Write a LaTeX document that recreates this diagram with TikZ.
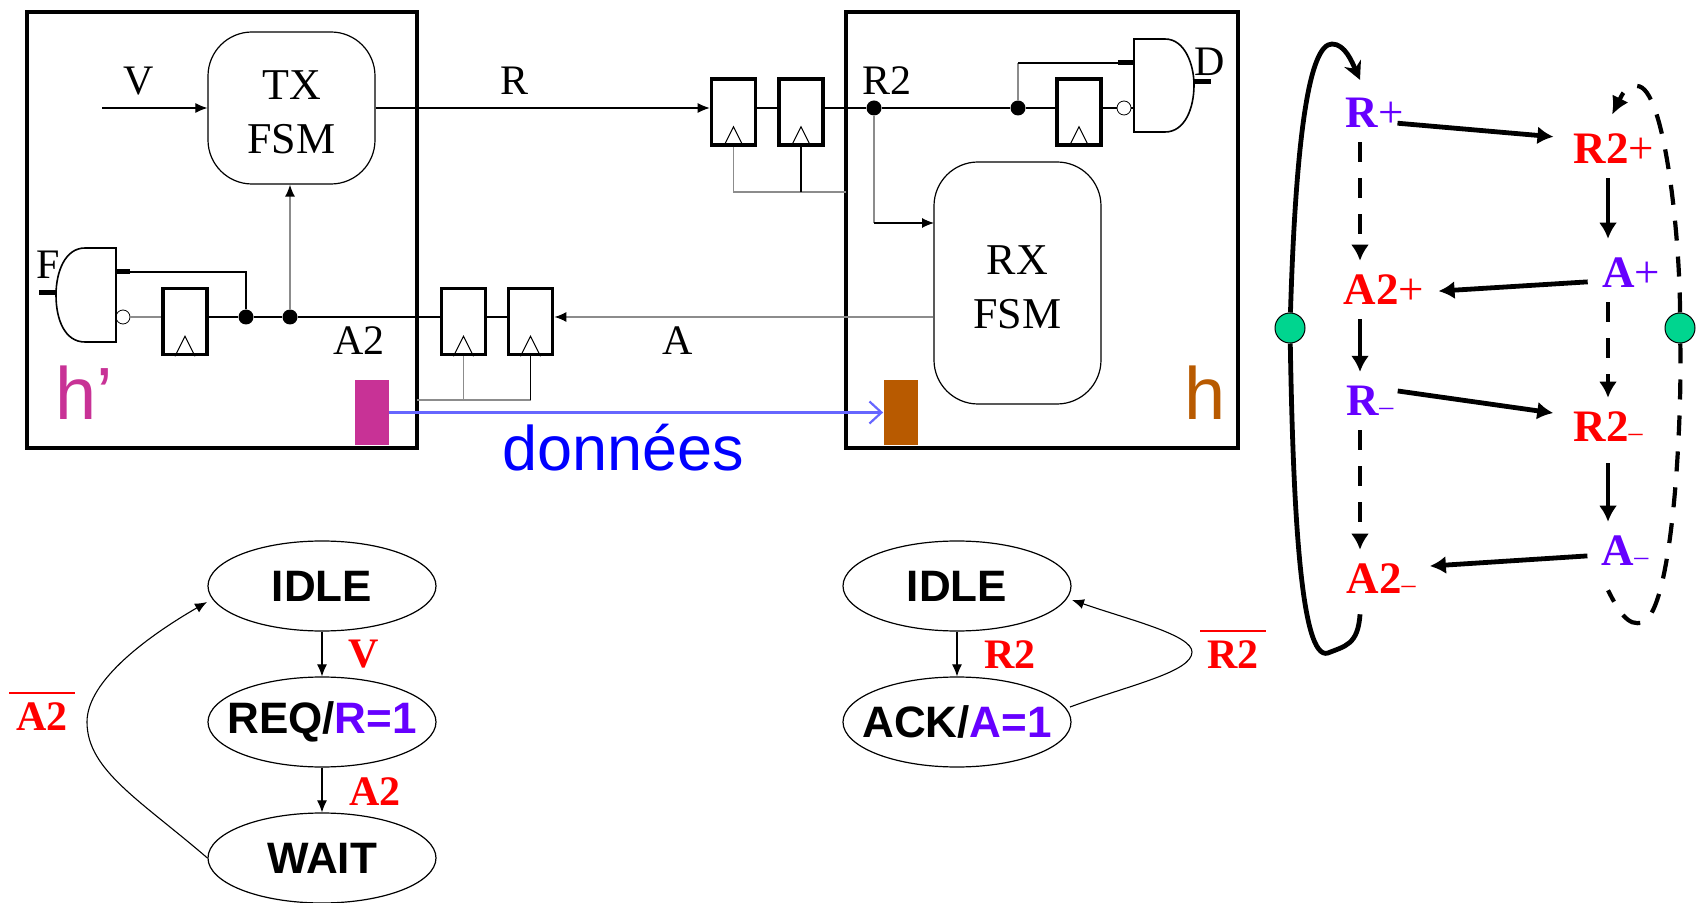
\documentclass[tikz,border=0pt]{standalone}
\usepackage{fontspec}
\setmainfont{Liberation Serif}
\setsansfont{Liberation Sans}
\usetikzlibrary{arrows.meta,shapes.geometric}
\definecolor{hpink}{HTML}{C83296}
\definecolor{hbrown}{HTML}{B85A00}
\definecolor{linkblue}{HTML}{6666FF}
\definecolor{sigpurple}{HTML}{6600FF}
\definecolor{phasegreen}{HTML}{00D58F}
\definecolor{wiregray}{HTML}{8C8C8C}
\newcommand{\barlabel}[1]{\vbox{\hrule height 1.1pt\kern4pt\hbox{\,\textbf{#1}\,}}}
\newcommand{\evminus}{{\fontsize{14}{14}\selectfont –}}
\tikzset{
	wire/.style={line width=0.55pt},
	graywire/.style={line width=0.8pt, wiregray},
	wirearrow/.style={wire, -{Latex[length=6pt,width=5pt]}},
	grayarrow/.style={graywire, -{Latex[length=6pt,width=5pt,color=black]}},
	fsmbox/.style={draw, line width=0.6pt, rounded corners=22pt, align=center, font=\fontsize{22}{27}\selectfont},
	ffbox/.style={draw, line width=1.8pt, minimum width=22pt, minimum height=33pt, inner sep=0pt},
	joint/.style={circle, fill, inner sep=0pt, minimum size=7.5pt},
	bubble/.style={circle, draw, line width=0.4pt, inner sep=0pt, minimum size=7pt},
	sig/.style={font=\fontsize{21}{21}\selectfont},
	stub/.style={line width=2.5pt},
	state/.style={ellipse, draw, line width=0.6pt, inner xsep=-14pt, inner ysep=0pt, minimum width=114pt, minimum height=45pt, font=\sffamily\bfseries\fontsize{22}{22}\selectfont},
	trans/.style={text=red, inner sep=0pt, font=\bfseries\fontsize{21}{21}\selectfont},
	ev/.style={inner sep=0pt, font=\fontsize{22.5}{22.5}\selectfont},
	evarrow/.style={line width=2.4pt, shorten <=7pt, shorten >=7pt, -{Latex[length=8pt,width=9pt]}},
	evdash/.style={evarrow, dash pattern=on 10pt off 8pt},
	phase/.style={circle, draw, line width=0.5pt, fill=phasegreen, inner sep=0pt, minimum size=15pt},
}
\begin{document}
\begin{tikzpicture}[x=0.5pt, y=-0.5pt]
	\useasboundingbox (0,0) rectangle (1698,903);
	\coordinate (ry) at (0,108);
	\coordinate (ay) at (0,317);

	%left and right blocks
	\draw[line width=1.8pt] (27,12) rectangle (417,448);
	\draw[line width=1.8pt] (846,12) rectangle (1238,448);

	\node (txfsm) at (291.5,108) [fsmbox, minimum width=83.5pt, minimum height=76pt]{\rule{0pt}{18.5pt}TX\\FSM};
	\node (rxfsm) at (1017.5,283) [fsmbox, minimum width=83.5pt, minimum height=121pt]{\rule{0pt}{18.5pt}RX\\FSM};

	\node (ffa) at (733.5,112) [ffbox]{};
	\node (ffb) at (801,112) [ffbox]{};
	\node (ffc) at (1079,112) [ffbox]{};
	\node (ffd) at (185,321.5) [ffbox]{};
	\node (ffe) at (463.5,321.5) [ffbox]{};
	\node (fff) at (530.5,321.5) [ffbox]{};
	\foreach \n in {ffa, ffb, ffc, ffd, ffe, fff}{
		\draw[line width=0.5pt] ([xshift=-5pt]\n.south) -- ([yshift=10pt]\n.south) -- ([xshift=5pt]\n.south);
	}

	\node (jointr) at (874,108) [joint]{};
	\node (joints) at (1018,108) [joint]{};
	\node (jointa) at (246,317) [joint]{};
	\node (jointb) at (290,317) [joint]{};
	\node (bubr) at (1124,108) [bubble]{};
	\node (bubl) at (123,317) [bubble]{};

	%gates
	\draw[line width=0.8pt] (1134,39) -- (1165,39) .. controls (1185,39) and (1194,65) .. (1194,85) .. controls (1194,108) and (1185,132) .. (1165,132) -- (1134,132) -- cycle;
	\draw[line width=0.8pt] (116,248) -- (85,248) .. controls (65,248) and (56,272) .. (56,295) .. controls (56,320) and (65,342) .. (85,342) -- (116,342) -- cycle;
	\coordinate (gatertop) at (1134,63);
	\coordinate (gaterstub) at (1118,63);
	\coordinate (gaterin) at (1134,108);
	\coordinate (gaterout) at (1194,82);
	\coordinate (gaterend) at (1211,82);
	\coordinate (gateltop) at (116,272);
	\coordinate (gatelstub) at (130,272);
	\coordinate (gatelin) at (116,317);
	\coordinate (gatelout) at (56,293);
	\coordinate (gatelend) at (39,293);
	\draw[stub] (gaterstub) -- (gatertop);
	\draw[stub] (gaterout) -- (gaterend);
	\draw[stub] (gatelstub) -- (gateltop);
	\draw[stub] (gatelout) -- (gatelend);

	%wires
	\coordinate (vin) at (102,108);
	\draw[wirearrow] (vin) -- (txfsm.west);
	\draw[wirearrow] (txfsm.east) -- (ffa.west |- ry);
	\draw[wire] (ffa.east |- ry) -- (ffb.west |- ry);
	\draw[wire] (ffb.east |- ry) -- (jointr);
	\draw[wire] (jointr) -- (joints);
	\draw[wire] (joints) -- (ffc.west |- ry);
	\draw[wire] (ffc.east |- ry) -- (bubr);
	\draw[wire] (bubr) -- (gaterin);
	\draw[graywire] (joints) -- (joints |- gaterstub);
	\draw[wire] (joints |- gaterstub) -- (gaterstub);
	\draw[graywire] (jointr) -- (jointr |- 0,223);
	\draw[wirearrow] (jointr |- 0,223) -- (934,223);

	\draw[grayarrow] (rxfsm.west |- ay) -- (fff.east |- ay);
	\draw[wire] (fff.west |- ay) -- (ffe.east |- ay);
	\draw[wire] (ffe.west |- ay) -- (jointb);
	\draw[wire] (jointb) -- (jointa);
	\draw[wire] (jointa) -- (ffd.east |- ay);
	\draw[graywire] (ffd.west |- ay) -- (bubl);
	\draw[wire] (bubl) -- (gatelin);
	\draw[wire] (jointa) |- (gatelstub);
	\draw[grayarrow] (jointb) -- (jointb |- txfsm.south);

	%clock lines
	\coordinate (clkr) at (846,192);
	\coordinate (clkl) at (417,400);
	\draw[graywire] (ffa.south) |- (clkr);
	\draw[wire] (ffb.south) -- (ffb.south |- clkr);
	\draw[graywire] (clkl) -- (clkl -| fff.south);
	\draw[graywire] (ffe.south) -- (ffe.south |- clkl);
	\draw[wire] (fff.south) -- (fff.south |- clkl);

	%signal names
	\node (labv) at (139,81) [sig]{V};
	\node (labr) at (515,81) [sig]{R};
	\node (labrt) at (887,81) [sig]{R2};
	\node (labd) at (1210,62) [sig]{D};
	\node (labf) at (48,265) [sig]{F};
	\node (labat) at (359,341) [sig]{A2};
	\node (laba) at (678,341) [sig]{A};

	%clock domains
	\node (hleft) at (84,393) [text=hpink, font=\sffamily\fontsize{37}{37}\selectfont]{h’};
	\node (hright) at (1205,393) [text=hbrown, font=\sffamily\fontsize{37}{37}\selectfont]{h};
	\node (src) at (372,412.5) [fill=hpink, minimum width=17pt, minimum height=32.5pt, inner sep=0pt]{};
	\node (dst) at (900.5,412.5) [fill=hbrown, minimum width=17pt, minimum height=32.5pt, inner sep=0pt]{};
	\draw[linkblue, line width=1.1pt, -{Straight Barb[length=6pt,width=11pt]}] (src) -- (dst);
	\node (data) at (623,448) [text=blue, font=\sffamily\fontsize{31.5}{31.5}\selectfont]{données};

	%sender states
	\node (idlea) at (322,586) [state]{IDLE};
	\node (req) at (322,722) [state]{REQ/\textcolor{sigpurple}{R=1}};
	\node (wait) at (322,858) [state]{WAIT};
	\draw[wirearrow] (idlea) -- (req);
	\draw[wirearrow] (req) -- (wait);
	\coordinate (backa) at (87,722);
	\coordinate (backtipa) at (207,602);
	\draw[wirearrow] (wait.west) .. controls (140,800) and (87,770) .. (backa) .. controls (87,680) and (150,635) .. (backtipa);
	\node (labva) at (364,654) [trans]{V};
	\node (labatb) at (375,792) [trans]{A2};
	\node (labnat) at (42,730) [trans, anchor=base]{\barlabel{A2}};

	%receiver states
	\node (idleb) at (957,586) [state]{IDLE};
	\node (ack) at (957,722) [state]{ACK/\textcolor{sigpurple}{A=1}};
	\draw[wirearrow] (idleb) -- (ack);
	\coordinate (backb) at (1192,652);
	\coordinate (backtipb) at (1072,600);
	\coordinate (backout) at (1070,707);
	\draw[wirearrow] (backout) .. controls (1130,685) and (1192,672) .. (backb) .. controls (1192,635) and (1130,620) .. (backtipb);
	\node (labrtb) at (1010,655) [trans]{R2};
	\node (labnrt) at (1233,668) [trans, anchor=base]{\barlabel{R2}};

	%event graph
	\node (rplus) at (1375,113) [ev, text=sigpurple]{\textbf{R}+};
	\node (rtplus) at (1614,149) [ev, text=red]{\textbf{R2}+};
	\node (aplus) at (1631,273) [ev, text=sigpurple]{\textbf{A}+};
	\node (atplus) at (1384,290) [ev, text=red]{\textbf{A2}+};
	\node (rminus) at (1370,401) [ev, text=sigpurple]{\textbf{R}\evminus};
	\node (rtminus) at (1608,427) [ev, text=red]{\textbf{R2}\evminus};
	\node (aminus) at (1625,551) [ev, text=sigpurple]{\textbf{A}\evminus};
	\node (atminus) at (1381,579) [ev, text=red]{\textbf{A2}\evminus};
	\node (phasel) at (1290,328) [phase]{};
	\node (phaser) at (1680,328) [phase]{};

	\draw[evarrow] ([xshift=-10.5pt,yshift=-4.5pt]rplus.east) -- ([xshift=-3pt,yshift=5.5pt]rtplus.west);
	\draw[evarrow] ([xshift=-3pt]rtplus.south) -- ([xshift=-11.5pt,yshift=2.5pt]aplus.north);
	\draw[evarrow] ([yshift=-4pt]aplus.west) -- ([yshift=-1pt]atplus.east);
	\draw[evarrow] ([xshift=-12pt]atplus.south) -- ([xshift=-5pt]rminus.north);
	\draw[evarrow] ([xshift=-5pt,yshift=6pt]rminus.east) -- ([xshift=-3pt,yshift=6pt]rtminus.west);
	\draw[evarrow] ([yshift=-3.5pt]rtminus.south) -- ([xshift=-8.5pt]aminus.north);
	\draw[evarrow] ([yshift=-2pt]aminus.west) -- ([yshift=6pt]atminus.east);
	\draw[evdash] ([xshift=-7.5pt]rplus.south) -- ([xshift=-12pt]atplus.north);
	\draw[evdash] ([xshift=-11.5pt]aplus.south) -- (rtminus.north);
	\draw[evdash] ([xshift=-5pt]rminus.south) -- ([xshift=-10.5pt]atminus.north);

	%outer loops
	\coordinate (loopbot) at (1328,653);
	\coordinate (looptop) at (1332,44);
	\coordinate (dashbot) at (1643,622);
	\coordinate (dashtop) at (1637,86);
	\draw[line width=2.4pt] ([xshift=-10.5pt,yshift=-10pt]atminus.south) .. controls (1358,645) and (1345,646) .. (loopbot) .. controls (1300,662) and (1293,500) .. (phasel);
	\draw[line width=2.4pt, -{Stealth[length=9pt,width=9pt]}] (phasel) .. controls (1296,130) and (1310,44) .. (looptop) .. controls (1345,44) and (1352,62) .. ([xshift=-7.5pt,yshift=9pt]rplus.north);
	\draw[line width=2.1pt, dash pattern=on 10pt off 8pt] (phaser) .. controls (1682,430) and (1672,610) .. (dashbot) .. controls (1628,628) and (1618,610) .. ([xshift=-8.5pt,yshift=-12pt]aminus.south);
	\draw[line width=2.1pt, dash pattern=on 10pt off 8pt, -{Latex[length=9pt,width=9pt]}] (phaser) .. controls (1680,240) and (1665,86) .. (dashtop) .. controls (1625,86) and (1622,95) .. ([xshift=-1pt,yshift=9.5pt]rtplus.north);
\end{tikzpicture}
\end{document}
